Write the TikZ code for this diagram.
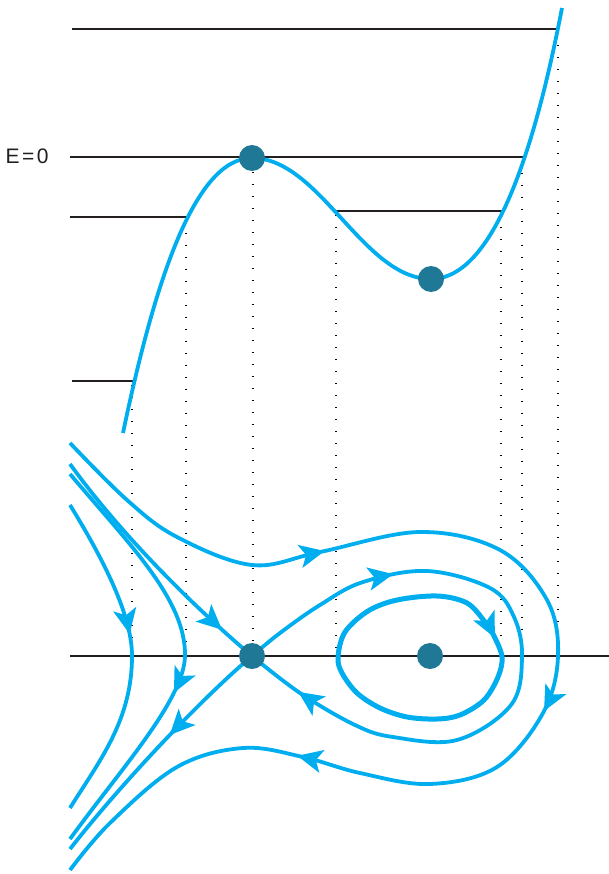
\documentclass[tikz,border=0pt]{standalone}
\usepackage{fontspec}
\setmainfont{Liberation Sans}
\usetikzlibrary{arrows.meta,decorations.markings}
\definecolor{flow}{HTML}{00AEEF}
\definecolor{fixcol}{HTML}{1F7896}
\definecolor{ink}{HTML}{231F20}
\newcommand\flowtip{\arrow{Stealth[length=25pt,width=23pt,inset=6pt]}}
\tikzset{
  traj/.style={color=flow, line width=3.8pt},
  level/.style={draw=ink, line width=2.4pt},
  axisline/.style={draw=ink, line width=1.6pt},
  dotline/.style={draw=black, line width=1.4pt, dash pattern=on 1.3pt off 10.7pt},
  fixpt/.style={circle, fill=fixcol, minimum size=26pt, inner sep=0pt},
  tipA/.style={postaction={decorate}, decoration={markings, mark=at position #1 with {\flowtip}}},
  tipB/.style 2 args={postaction={decorate}, decoration={markings, mark=at position #1 with {\flowtip}, mark=at position #2 with {\flowtip}}},
  tipC/.style n args={3}{postaction={decorate}, decoration={markings, mark=at position #1 with {\flowtip}, mark=at position #2 with {\flowtip}, mark=at position #3 with {\flowtip}}}
}
\begin{document}
\begin{tikzpicture}[x=1pt, y=-1pt]
\useasboundingbox (0,0) rectangle (609,874);
% dotted guides
\draw[dotline] (132,385) -- (132,656);
\draw[dotline] (186,221) -- (186,656);
\draw[dotline] (253,172) -- (253,656);
\draw[dotline] (336,215) -- (336,656);
\draw[dotline] (501,215) -- (501,656);
\draw[dotline] (522,161) -- (522,656);
\draw[dotline] (558,33) -- (558,656);
% energy levels
\draw[level] (72,29) -- (557,29);
\draw[level] (70,157) -- (523,157);
\draw[level] (70,217) -- (186,217);
\draw[level] (335,211) -- (503,211);
\draw[level] (72,381) -- (133,381);
\node[anchor=base west, inner sep=0pt, font=\fontsize{21}{25}\selectfont, text=ink] (lbl) at (5.5,164) {E\kern2.5pt=\kern2.5pt0};
% potential
\draw[traj] (123,433) .. controls (155,280) and (195,158) .. (252,158) .. controls (320,158) and (363,279) .. (431,279) .. controls (480,279) and (525,200) .. (562,8);
% axis
\draw[axisline] (70,656) -- (609,656);
% fixed point nodes
\coordinate (sadc) at (252,656);
% phase curves
\draw[traj, tipA=0.85] (70,464) .. controls (125,540) and (200,612) .. (sadc);
\draw[traj, tipA=0.43] (sadc) .. controls (200,700) and (120,785) .. (70,849);
\draw[traj, tipA=0.59] (70,474) .. controls (130,545) and (186,600) .. (185,656) .. controls (184,700) and (120,770) .. (70,839);
\draw[traj, tipA=0.43] (70,505) .. controls (110,570) and (132,620) .. (132,656) .. controls (132,720) and (100,760) .. (70,808);
\draw[traj, tipC={0.245}{0.545}{0.775}] plot[smooth, tension=0.6] coordinates {(70,443) (127,500) (177,537) (252,565) (320,552) (420,532) (500,550) (547,600) (558,656) (543,713) (497,767) (430,784) (360,773) (303,757) (243,748) (177,767) (110,823) (70,870)};
\draw[traj, tipB={0.24}{0.915}] plot[smooth, tension=0.6] coordinates {(252,656) (280,633) (320,605) (363,582) (427,571) (490,588) (514,617) (522,657) (511,705) (457,740) (393,737) (355,725) (300,693) (252,656)};
\draw[traj, line width=5pt, tipA=0.395] plot[smooth cycle, tension=0.55] coordinates {(338,657) (345,632) (368,611) (397,600) (437,596) (467,603) (485,622) (494,636) (502,657) (498,677) (484,700) (460,715) (437,719) (407,717) (380,708) (357,693) (342,673)};
% dots
\node[fixpt] (vmax) at (252,158) {};
\node[fixpt] (vmin) at (431,279) {};
\node[fixpt] (sad) at (sadc) {};
\node[fixpt] (cen) at (430,656) {};
\end{tikzpicture}
\end{document}
